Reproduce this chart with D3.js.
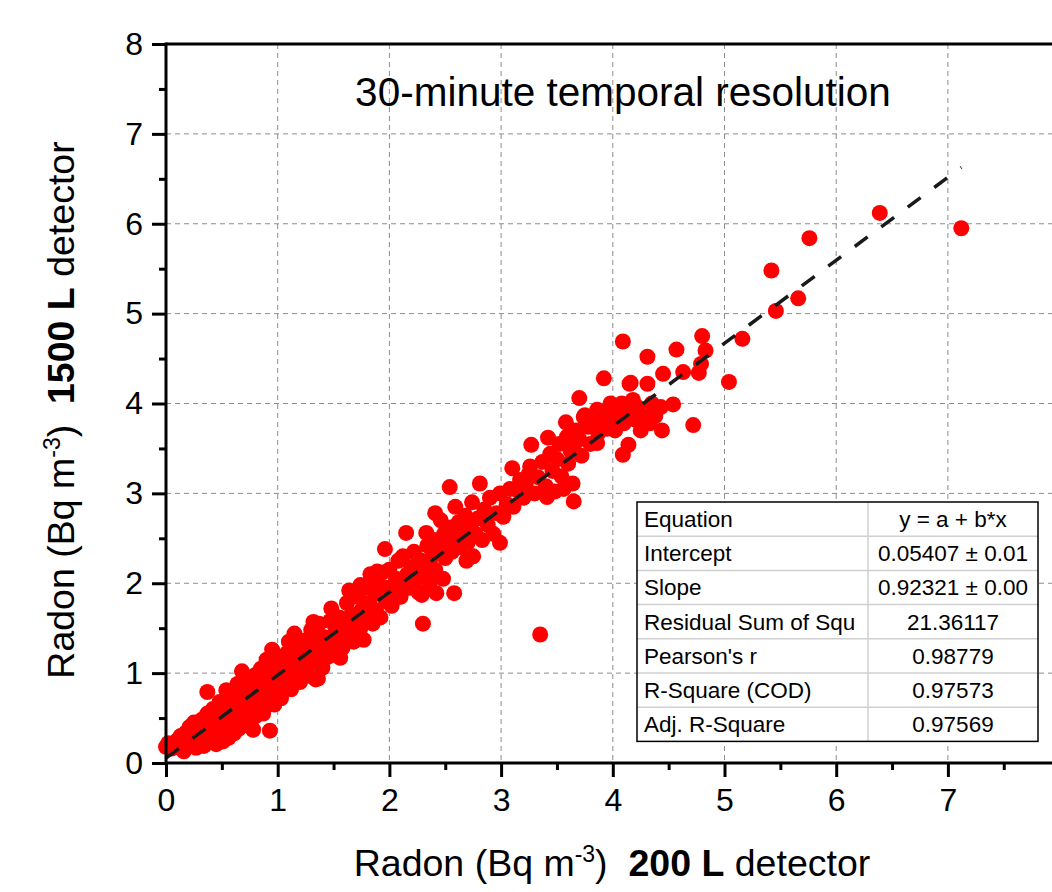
<!DOCTYPE html>
<html>
<head>
<meta charset="utf-8">
<script src="https://cdn.jsdelivr.net/npm/d3@7"></script>
<style>
  body { margin: 0; background: #fff; }
  text { font-family: Arial, "Liberation Sans", sans-serif; }
</style>
</head>
<body>
<svg width="1052" height="892"></svg>
<script>
// radon, 200 L detector (x) vs 1500 L detector (y), Bq m-3
const points = [
  [0.00,0.18],[0.02,0.22],[0.05,0.16],[0.08,0.20],[0.10,0.25],[0.12,0.17],[0.13,0.30],[0.15,0.22],
  [0.16,0.13],[0.18,0.34],[0.19,0.26],[0.20,0.19],[0.21,0.40],[0.22,0.29],[0.24,0.22],[0.25,0.45],
  [0.26,0.35],[0.27,0.17],[0.28,0.27],[0.30,0.38],[0.30,0.22],[0.32,0.48],[0.33,0.31],[0.34,0.19],
  [0.35,0.42],[0.36,0.26],[0.37,0.79],[0.37,0.55],[0.38,0.36],[0.40,0.23],[0.40,0.47],[0.42,0.60],
  [0.42,0.32],[0.44,0.40],[0.45,0.21],[0.46,0.52],[0.47,0.28],[0.48,0.68],[0.49,0.36],[0.50,0.45],
  [0.51,0.24],[0.52,0.58],[0.53,0.33],[0.54,0.81],[0.55,0.50],[0.56,0.28],[0.57,0.66],[0.58,0.40],
  [0.59,0.74],[0.60,0.55],[0.61,0.33],[0.62,0.62],[0.63,0.45],[0.64,0.88],[0.65,0.38],[0.66,0.70],
  [0.67,0.52],[0.68,1.02],[0.69,0.60],[0.70,0.42],[0.70,0.80],[0.72,0.65],[0.73,0.93],[0.74,0.50],
  [0.75,0.72],[0.76,0.58],[0.77,0.85],[0.78,0.37],[0.78,0.66],[0.80,0.98],[0.80,0.52],[0.82,0.75],
  [0.83,0.88],[0.84,0.62],[0.85,1.05],[0.86,0.70],[0.87,0.55],[0.88,0.92],[0.89,0.80],[0.90,1.15],
  [0.90,0.64],[0.92,0.85],[0.93,0.36],[0.93,1.00],[0.94,0.72],[0.95,1.26],[0.96,0.90],[0.97,0.65],
  [0.98,1.08],[1.00,0.80],[1.00,0.95],[1.02,1.15],[1.03,0.72],[1.05,1.02],[1.06,0.88],[1.08,1.22],
  [1.10,0.95],[1.10,1.35],[1.12,0.82],[1.13,1.10],[1.15,1.44],[1.16,1.00],[1.18,1.25],[1.20,0.90],
  [1.21,1.12],[1.23,1.36],[1.25,1.05],[1.27,1.20],[1.28,0.97],[1.30,1.48],[1.31,1.28],[1.32,1.12],
  [1.32,1.57],[1.34,0.93],[1.35,1.38],[1.36,0.94],[1.37,1.55],[1.38,1.22],[1.40,1.06],[1.42,1.40],
  [1.43,1.30],[1.45,1.18],[1.47,1.58],[1.48,1.72],[1.50,1.35],[1.52,1.47],[1.53,1.20],[1.55,1.62],
  [1.56,1.17],[1.57,1.40],[1.58,1.28],[1.60,1.55],[1.62,1.78],[1.63,1.45],[1.64,1.92],[1.66,1.65],
  [1.68,1.35],[1.70,1.58],[1.72,1.85],[1.74,1.50],[1.74,1.98],[1.75,1.70],[1.77,1.37],[1.78,1.95],
  [1.80,1.62],[1.82,1.78],[1.83,2.10],[1.85,1.55],[1.87,1.88],[1.88,1.70],[1.89,2.13],[1.90,2.00],
  [1.92,1.62],[1.94,2.12],[1.96,2.38],[1.97,1.80],[1.99,1.95],[2.00,2.15],[2.02,1.75],[2.04,1.90],
  [2.06,2.05],[2.08,2.25],[2.10,1.85],[2.11,2.28],[2.12,2.30],[2.13,2.00],[2.15,2.56],[2.16,2.10],
  [2.18,1.95],[2.20,2.18],[2.22,2.35],[2.24,2.05],[2.26,1.90],[2.27,2.26],[2.29,1.87],[2.30,1.55],
  [2.30,2.24],[2.32,2.10],[2.33,2.56],[2.34,2.42],[2.36,2.00],[2.38,2.30],[2.40,2.48],[2.41,2.78],
  [2.41,2.15],[2.42,1.89],[2.44,2.36],[2.46,2.70],[2.48,2.05],[2.49,2.55],[2.50,2.28],[2.52,2.44],
  [2.54,3.07],[2.55,2.62],[2.56,2.35],[2.58,1.89],[2.59,2.85],[2.60,2.50],[2.62,2.68],[2.64,2.40],
  [2.66,2.58],[2.68,2.75],[2.69,2.25],[2.70,2.45],[2.72,2.62],[2.74,2.90],[2.75,2.30],[2.77,2.55],
  [2.79,2.72],[2.81,3.11],[2.83,2.48],[2.85,2.82],[2.88,2.65],[2.90,2.95],[2.93,2.55],[2.96,2.78],
  [2.99,3.00],[2.99,2.45],[3.02,2.74],[3.05,2.88],[3.08,3.05],[3.10,3.28],[3.11,2.85],[3.14,3.04],
  [3.17,3.15],[3.20,2.95],[3.22,3.10],[3.25,3.22],[3.26,3.30],[3.27,3.54],[3.30,3.00],[3.33,3.18],
  [3.35,1.43],[3.37,3.35],[3.40,3.08],[3.41,2.96],[3.42,3.62],[3.44,3.44],[3.46,3.25],[3.48,3.02],
  [3.50,3.38],[3.52,3.55],[3.54,3.19],[3.56,3.05],[3.58,3.79],[3.59,3.63],[3.60,3.33],[3.62,3.48],
  [3.64,3.11],[3.65,3.52],[3.65,2.91],[3.67,3.70],[3.70,4.06],[3.70,3.60],[3.72,3.42],[3.74,3.85],
  [3.75,3.87],[3.78,3.74],[3.80,3.55],[3.83,3.80],[3.86,3.56],[3.86,3.93],[3.87,3.67],[3.90,3.82],
  [3.92,4.28],[3.95,3.72],[3.97,3.96],[3.98,4.00],[4.00,3.86],[4.02,3.70],[4.05,3.95],[4.08,4.00],
  [4.09,4.69],[4.09,3.43],[4.10,3.78],[4.12,3.88],[4.14,3.54],[4.15,4.22],[4.16,4.23],[4.18,4.04],
  [4.20,3.82],[4.22,3.96],[4.25,3.70],[4.28,3.86],[4.31,4.22],[4.31,4.52],[4.33,3.78],[4.35,4.00],
  [4.38,3.86],[4.43,3.96],[4.44,3.70],[4.45,4.33],[4.54,3.99],[4.57,4.60],[4.63,4.35],[4.72,3.76],
  [4.77,4.34],[4.79,4.44],[4.80,4.75],[4.83,4.59],[5.04,4.24],[5.16,4.72],[5.46,5.03],[5.42,5.48],
  [5.66,5.17],[5.76,5.84],[6.39,6.12],[7.12,5.95]
];

const fitIntercept = 0.05407;
const fitSlope = 0.92321;
const fitRange = [0, 7.12];

const majorTicks = [0, 1, 2, 3, 4, 5, 6, 7, 8];
const minorTicks = [0.5, 1.5, 2.5, 3.5, 4.5, 5.5, 6.5, 7.5];

const tableLabels = ["Equation", "Intercept", "Slope", "Residual Sum of Squ", "Pearson's r", "R-Square (COD)", "Adj. R-Square"];
const tableValues = ["y = a + b*x", "0.05407 \u00b1 0.01", "0.92321 \u00b1 0.00", "21.36117", "0.98779", "0.97573", "0.97569"];

const svg = d3.select("svg");
const plotLeft = 166, plotTop = 44, plotBottom = 763;
const unit = 111.7;

const x = d3.scaleLinear().domain([0, 8]).range([plotLeft, plotLeft + 8 * unit]);
const y = d3.scaleLinear().domain([0, 8]).range([plotBottom, plotTop]);

// dashed grid
const grid = svg.append("g").attr("stroke", "#8c8c8c").attr("stroke-width", 1).attr("stroke-dasharray", "5,4");
grid.selectAll("line.v").data(majorTicks.slice(1, 8)).enter().append("line")
    .attr("x1", d => x(d)).attr("x2", d => x(d))
    .attr("y1", plotTop).attr("y2", plotBottom);
grid.selectAll("line.h").data(majorTicks.slice(1, 8)).enter().append("line")
    .attr("x1", plotLeft).attr("x2", x(8))
    .attr("y1", d => y(d)).attr("y2", d => y(d));

// points
svg.append("g")
    .selectAll("circle")
    .data(points)
    .enter()
    .append("circle")
    .attr("cx", d => x(d[0]))
    .attr("cy", d => y(d[1]))
    .attr("r", 8)
    .attr("fill", "#ff0000");

// linear fit
svg.append("line")
    .attr("x1", x(fitRange[0])).attr("y1", y(fitIntercept + fitSlope * fitRange[0]))
    .attr("x2", x(fitRange[1])).attr("y2", y(fitIntercept + fitSlope * fitRange[1]))
    .attr("stroke", "#1a1a1a")
    .attr("stroke-width", 3.5)
    .attr("stroke-dasharray", "16,17");

// axes
const xAxis = svg.append("g").attr("transform", `translate(0,${plotBottom})`)
    .call(d3.axisBottom(x).tickValues(majorTicks).tickSize(14).tickPadding(11).tickFormat(d3.format("d")));
xAxis.append("g").call(d3.axisBottom(x).tickValues(minorTicks).tickSize(7).tickFormat(""));

const yAxis = svg.append("g").attr("transform", `translate(${plotLeft},0)`)
    .call(d3.axisLeft(y).tickValues(majorTicks).tickSize(14).tickPadding(9).tickFormat(d3.format("d")));
yAxis.append("g").call(d3.axisLeft(y).tickValues(minorTicks).tickSize(7).tickFormat(""));

svg.selectAll(".domain").remove();
svg.selectAll(".tick line").attr("stroke", "#000").attr("stroke-width", 3);
svg.selectAll(".tick text").attr("font-size", 32).attr("fill", "#000")
    .attr("font-family", "Arial, 'Liberation Sans', sans-serif");

// frame lines
svg.append("line").attr("x1", plotLeft).attr("x2", 1052).attr("y1", plotBottom).attr("y2", plotBottom)
    .attr("stroke", "#000").attr("stroke-width", 3);
svg.append("line").attr("x1", plotLeft).attr("x2", 1052).attr("y1", plotTop).attr("y2", plotTop)
    .attr("stroke", "#000").attr("stroke-width", 3);
svg.append("line").attr("x1", plotLeft).attr("x2", plotLeft).attr("y1", plotTop - 1.5).attr("y2", plotBottom + 1.5)
    .attr("stroke", "#000").attr("stroke-width", 3);

// title
svg.append("text")
    .attr("x", 623).attr("y", 106)
    .attr("text-anchor", "middle")
    .attr("font-size", 40.5)
    .text("30-minute temporal resolution");

// axis titles
const xt = svg.append("text")
    .attr("x", 612).attr("y", 876)
    .attr("text-anchor", "middle")
    .attr("font-size", 37.5);
xt.append("tspan").text("Radon (Bq m");
xt.append("tspan").attr("font-size", 23).attr("dy", -14).text("-3");
xt.append("tspan").attr("dy", 14).text(")\u00a0\u00a0");
xt.append("tspan").attr("font-weight", "bold").text("200 L");
xt.append("tspan").text(" detector");

const yt = svg.append("text")
    .attr("transform", "translate(74,410) rotate(-90)")
    .attr("text-anchor", "middle")
    .attr("font-size", 37.5);
yt.append("tspan").text("Radon (Bq m");
yt.append("tspan").attr("font-size", 23).attr("dy", -14).text("-3");
yt.append("tspan").attr("dy", 14).text(")\u00a0\u00a0");
yt.append("tspan").attr("font-weight", "bold").text("1500 L");
yt.append("tspan").text(" detector");

// fit table
const tx = 637, ty = 502, tw = 401, rowH = 34.2, splitX = 868;
const table = svg.append("g");
table.append("rect")
    .attr("x", tx).attr("y", ty).attr("width", tw).attr("height", rowH * tableLabels.length)
    .attr("fill", "#fff");
table.selectAll("line.row").data(d3.range(1, tableLabels.length)).enter().append("line")
    .attr("x1", tx).attr("x2", tx + tw)
    .attr("y1", d => ty + d * rowH).attr("y2", d => ty + d * rowH)
    .attr("stroke", "#d0d0d0").attr("stroke-width", 1.5);
table.append("line")
    .attr("x1", splitX).attr("x2", splitX).attr("y1", ty).attr("y2", ty + rowH * tableLabels.length)
    .attr("stroke", "#d0d0d0").attr("stroke-width", 1.5);
table.append("rect")
    .attr("x", tx).attr("y", ty).attr("width", tw).attr("height", rowH * tableLabels.length)
    .attr("fill", "none").attr("stroke", "#000").attr("stroke-width", 1.5);
table.selectAll("text.lab").data(tableLabels).enter().append("text")
    .attr("x", tx + 7).attr("y", (d, i) => ty + i * rowH + 25)
    .attr("font-size", 22.5)
    .text(d => d);
table.selectAll("text.val").data(tableValues).enter().append("text")
    .attr("x", (splitX + tx + tw) / 2).attr("y", (d, i) => ty + i * rowH + 25)
    .attr("text-anchor", "middle")
    .attr("font-size", 22.5)
    .text(d => d);
</script>
</body>
</html>
